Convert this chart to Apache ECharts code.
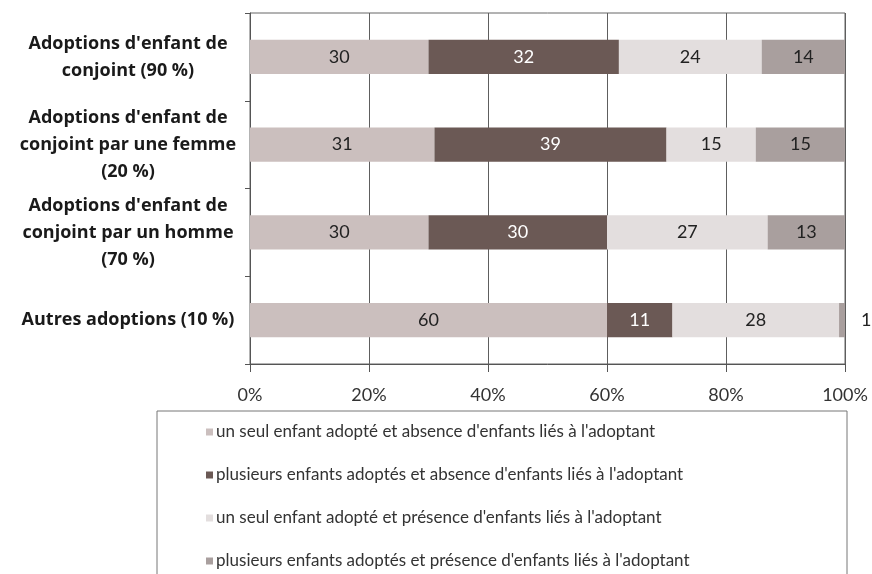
<!DOCTYPE html>
<html>
<head>
<meta charset="utf-8">
<script src="https://cdn.jsdelivr.net/npm/echarts@6/dist/echarts.min.js"></script>
<style>
html,body{margin:0;padding:0;background:#fff;}
#chart{width:872px;height:574px;}
</style>
</head>
<body>
<div id="chart"></div>
<script>
const categories = [
  "Adoptions d'enfant de\nconjoint (90 %)",
  "Adoptions d'enfant de\nconjoint par une femme\n(20 %)",
  "Adoptions d'enfant de\nconjoint par un homme\n(70 %)",
  "Autres adoptions (10 %)"
];
const seriesNames = [
  "un seul enfant adopté et absence d'enfants liés à l'adoptant",
  "plusieurs enfants adoptés et absence d'enfants liés à l'adoptant",
  "un seul enfant adopté et présence d'enfants liés à l'adoptant",
  "plusieurs enfants adoptés et présence d'enfants liés à l'adoptant"
];
const seulAbsence = [30, 31, 30, 60];
const plusieursAbsence = [32, 39, 30, 11];
const seulPresence = [24, 15, 27, 28];
const plusieursPresence = [14, 15, 13, 1];
const xTicks = [0, 20, 40, 60, 80, 100];

const colors = ['#cbbfbe', '#6b5955', '#e3dede', '#a99f9e'];
const labelColors = ['#222', '#fff', '#222', '#222'];
const values = [seulAbsence, plusieursAbsence, seulPresence, plusieursPresence];
const font = 'Lato, "Open Sans", sans-serif';

const series = values.map((arr, i) => ({
  name: seriesNames[i],
  type: 'bar',
  stack: 'total',
  barWidth: '39%',
  itemStyle: { color: colors[i] },
  label: {
    show: true,
    position: 'inside',
    color: labelColors[i],
    fontSize: 18,
    fontFamily: font
  },
  data: arr.map((v, j) => {
    if (i === 3 && v < 3) {
      return { value: v, label: { position: 'right', distance: 16, color: '#222' } };
    }
    return v;
  })
}));

const chart = echarts.init(document.getElementById('chart'));
chart.setOption({
  animation: false,
  backgroundColor: '#fff',
  color: colors,
  grid: {
    left: 250, right: 27, top: 13, bottom: 210,
    show: true, borderColor: '#666', borderWidth: 1, backgroundColor: 'transparent'
  },
  xAxis: {
    type: 'value',
    min: xTicks[0], max: xTicks[xTicks.length - 1], interval: 20,
    axisLine: { show: true, lineStyle: { color: '#555' } },
    axisTick: { show: true, length: 8, lineStyle: { color: '#555' } },
    splitLine: { show: true, lineStyle: { color: '#5e5e5e', width: 1 } },
    axisLabel: {
      formatter: v => v + '%',
      fontSize: 18, color: '#333', fontFamily: font, margin: 22
    }
  },
  yAxis: {
    type: 'category',
    inverse: true,
    data: categories,
    axisLine: { show: true, lineStyle: { color: '#555' } },
    axisTick: { show: true, length: 5, lineStyle: { color: '#555' } },
    axisLabel: {
      margin: 122,
      align: 'center',
      fontSize: 18,
      fontWeight: 'bold',
      color: '#1a1a1a',
      fontFamily: '"Open Sans", Lato, sans-serif',
      lineHeight: 27,
      padding: [5, 0, 0, 0]
    }
  },
  legend: {
    orient: 'vertical',
    left: 206,
    top: 422,
    height: 220,
    padding: 0,
    itemWidth: 7,
    itemHeight: 7,
    itemGap: 23,
    icon: 'rect',
    data: seriesNames,
    textStyle: { fontSize: 17, color: '#333', fontFamily: font, lineHeight: 20, padding: [0, 0, 0, -2] }
  },
  graphic: [{
    type: 'rect',
    shape: { x: 157, y: 411, width: 690, height: 200 },
    style: { fill: 'none', stroke: '#777', lineWidth: 1 },
    silent: true,
    z: -1
  }],
  series: series
});
</script>
</body>
</html>
